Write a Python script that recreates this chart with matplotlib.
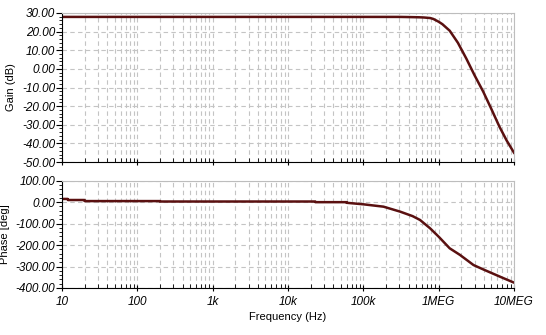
import matplotlib
matplotlib.use('Agg')
import matplotlib.pyplot as plt
from matplotlib.ticker import FixedLocator, NullFormatter, LogLocator
import numpy as np

# AC sweep results (frequency in Hz)
gain_freq = [10, 100, 1e3, 1e4, 1e5, 2e5, 3e5, 4.2e5, 5.5e5, 6.3e5, 7.7e5, 8.5e5,
             1e6, 1.12e6, 1.4e6, 1.8e6, 2.33e6, 3.0e6, 3.9e6, 5.0e6, 6.4e6, 8.0e6, 1e7]
gain_db = [27.9, 27.9, 27.9, 27.9, 27.9, 27.9, 27.9, 27.8, 27.7, 27.6, 27.3, 26.8,
           25.3, 24.0, 20.5, 14.0, 5.5, -3.5, -12.2, -21.5, -31.0, -38.5, -45.0]

phase_freq = [10, 11.9, 12, 19.9, 20, 199, 200, 2.3e4, 2.31e4, 6e4, 6.01e4,
              1e5, 1.85e5, 3.07e5, 4.5e5, 5.66e5, 7.7e5, 1e6, 1.4e6, 1.92e6,
              2.9e6, 4e6, 5.1e6, 7e6, 1e7]
phase_deg = [15, 15, 10, 10, 5, 5, 3, 3, 0, 0, -3,
             -10, -21, -44, -65, -83, -122, -161, -215, -246,
             -293, -315, -331, -352, -375]

xtick_vals = [10, 100, 1e3, 1e4, 1e5, 1e6, 1e7]
xtick_labels = ['10', '100', '1k', '10k', '100k', '1MEG', '10MEG']
gain_ticks = np.arange(-50, 31, 10)
phase_ticks = np.arange(-400, 101, 100)

line_color = '#5a1010'
grid_color = '#c4c4c4'
tick_font = dict(family='Liberation Sans', style='italic', size=8.5)
label_font = dict(family='Liberation Sans', size=8)

fig = plt.figure(figsize=(5.46, 3.35), dpi=100)
ax1 = fig.add_axes([0.1136, 0.5164, 0.8278, 0.4448])
ax2 = fig.add_axes([0.1136, 0.1403, 0.8278, 0.3203])


def style_axes(ax, yticks, ylabel):
    ax.set_xscale('log')
    ax.set_xlim(10, 1e7)
    ax.set_ylim(yticks[0], yticks[-1])
    ax.set_xticks(xtick_vals)
    ax.xaxis.set_minor_locator(LogLocator(base=10, subs=np.arange(2, 10)))
    ax.xaxis.set_minor_formatter(NullFormatter())
    ax.set_yticks(yticks)
    step = yticks[1] - yticks[0]
    ax.yaxis.set_minor_locator(FixedLocator(np.arange(yticks[0], yticks[-1], step / 5)))
    ax.set_yticklabels(['%.2f' % v for v in yticks], **tick_font)
    ax.set_ylabel(ylabel, labelpad=4, **label_font)
    ax.grid(True, which='major', color=grid_color, linestyle=(0, (4, 3)), linewidth=0.8)
    ax.grid(True, which='minor', axis='x', color=grid_color, linestyle=(0, (4, 3)), linewidth=0.8)
    for side in ['top', 'right']:
        ax.spines[side].set_color('#bdbdbd')
    for side in ['left', 'bottom']:
        ax.spines[side].set_color('black')
    ax.tick_params(axis='y', which='major', length=4, width=0.8, pad=1)
    ax.tick_params(axis='y', which='minor', length=2, width=0.6)
    ax.tick_params(axis='x', which='major', direction='inout', length=5, width=0.8)
    ax.tick_params(axis='x', which='minor', direction='in', length=3, width=0.6)


ax1.plot(gain_freq, gain_db, color=line_color, linewidth=1.8)
style_axes(ax1, gain_ticks, 'Gain (dB)')
ax1.set_xticklabels([])

ax2.plot(phase_freq, phase_deg, color=line_color, linewidth=1.8)
style_axes(ax2, phase_ticks, 'Phase [deg]')
ax2.set_xticklabels(xtick_labels, **tick_font)
ax2.set_xlabel('Frequency (Hz)', labelpad=3, **label_font)

fig.savefig('out.png', dpi=100)
